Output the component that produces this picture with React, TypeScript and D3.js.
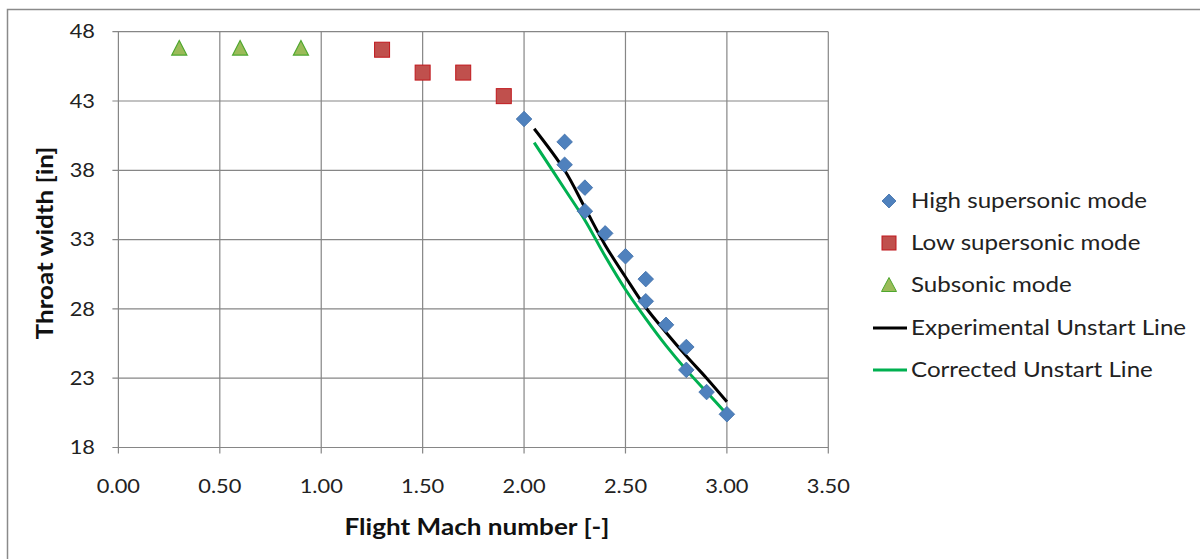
import React from 'react';
import * as d3 from 'd3';

// Excel-style scatter: throat width vs flight Mach number
const highMach = [2.0, 2.2, 2.2, 2.3, 2.3, 2.4, 2.5, 2.6, 2.6, 2.7, 2.8, 2.8, 2.9, 3.0];
const highWidth = [41.7, 40.05, 38.4, 36.75, 35.05, 33.45, 31.8, 30.15, 28.55, 26.85, 25.25, 23.6, 22.0, 20.4];

const lowMach = [1.3, 1.5, 1.7, 1.9];
const lowWidth = [46.7, 45.05, 45.05, 43.35];

const subMach = [0.3, 0.6, 0.9];
const subWidth = [46.8, 46.8, 46.8];

const expMach = [2.05, 2.2, 2.3, 2.4, 2.5, 2.6, 2.7, 2.8, 2.9, 3.0];
const expWidth = [41.0, 38.0, 35.3, 32.6, 30.3, 28.1, 26.3, 24.6, 23.0, 21.3];

const corMach = [2.05, 2.2, 2.3, 2.4, 2.5, 2.6, 2.7, 2.8, 2.9, 3.0];
const corWidth = [40.0, 36.65, 34.4, 31.8, 29.4, 27.3, 25.35, 23.6, 22.0, 20.4];

const xTicks = [0, 0.5, 1.0, 1.5, 2.0, 2.5, 3.0, 3.5];
const yTicks = [18, 23, 28, 33, 38, 43, 48];

const legendLabels = [
  'High supersonic mode',
  'Low supersonic mode',
  'Subsonic mode',
  'Experimental Unstart Line',
  'Corrected Unstart Line',
];

const FONT = 'Lato, "Open Sans", sans-serif';
const GRID = '#868686';
const STRETCH = 1.15; // the source text is a bit wider than Lato

export default function App() {
  const left = 118.4, right = 828.3, top = 31.7, bottom = 447.5;

  const x = d3.scaleLinear().domain([0, 3.5]).range([left, right]);
  const y = d3.scaleLinear().domain([18, 48]).range([bottom, top]);

  const line = d3.line<[number, number]>()
    .x(d => x(d[0]))
    .y(d => y(d[1]))
    .curve(d3.curveCatmullRom.alpha(0.5));

  const expPts = expMach.map((m, i) => [m, expWidth[i]] as [number, number]);
  const corPts = corMach.map((m, i) => [m, corWidth[i]] as [number, number]);

  const diamond = (cx: number, cy: number, r = 7.8) =>
    `M${cx},${cy - r}L${cx + r},${cy}L${cx},${cy + r}L${cx - r},${cy}Z`;
  const triangle = (cx: number, cy: number, w = 15, h = 13.5) =>
    `M${cx},${cy - h / 2 - 1}L${cx + w / 2},${cy + h / 2}L${cx - w / 2},${cy + h / 2}Z`;

  const legendX = 889;
  const legendRows = [201, 243, 285, 328, 370];

  return (
    <svg width={1200} height={559} style={{ position: 'absolute', left: 0, top: 0, background: '#fff' }}>
      <rect x={0} y={0} width={1200} height={559} fill="#fff" />
      {/* outer chart frame, open at right and bottom */}
      <path d="M7.5,570V9.5H1210" fill="none" stroke="#8a8a8a" strokeWidth={1.5} />

      {/* grid */}
      {yTicks.map(t => (
        <line key={'gy' + t} x1={left - 6} x2={right} y1={y(t)} y2={y(t)} stroke={GRID} strokeWidth={1.2} />
      ))}
      {xTicks.map(t => (
        <line key={'gx' + t} x1={x(t)} x2={x(t)} y1={top} y2={bottom + 6} stroke={GRID} strokeWidth={1.2} />
      ))}

      {/* tick labels */}
      {yTicks.map(t => (
        <text key={'ty' + t} transform={`translate(95,${y(t)}) scale(${STRETCH},1)`} dy="0.35em" textAnchor="end"
          fontFamily={FONT} fontSize={19} fill="#222">{t}</text>
      ))}
      {xTicks.map(t => (
        <text key={'tx' + t} transform={`translate(${x(t)},486) scale(${STRETCH},1)`} dy="0.35em" textAnchor="middle"
          fontFamily={FONT} fontSize={19} fill="#222">{t.toFixed(2)}</text>
      ))}

      {/* axis titles */}
      <text x={477} y={527} dy="0.35em" textAnchor="middle" fontFamily={FONT}
        fontSize={22} fontWeight="bold" fill="#111" textLength={265} lengthAdjust="spacingAndGlyphs">Flight Mach number [-]</text>
      <text transform="translate(45,243) rotate(-90)" dy="0.35em" textAnchor="middle"
        fontFamily={FONT} fontSize={22} fontWeight="bold" fill="#111" textLength={193} lengthAdjust="spacingAndGlyphs">Throat width [in]</text>

      {/* unstart lines */}
      <path d={line(expPts) || ''} fill="none" stroke="#000" strokeWidth={3} />
      <path d={line(corPts) || ''} fill="none" stroke="#00B050" strokeWidth={3} />

      {/* markers */}
      {subMach.map((m, i) => (
        <path key={'s' + i} d={triangle(x(m), y(subWidth[i]))} fill="#9BBB59" stroke="#4EA72E" strokeWidth={1.2} />
      ))}
      {lowMach.map((m, i) => (
        <rect key={'l' + i} x={x(m) - 7.5} y={y(lowWidth[i]) - 7.5} width={15} height={15}
          fill="#C0504D" stroke="#C0171C" strokeWidth={1} />
      ))}
      {highMach.map((m, i) => (
        <path key={'h' + i} d={diamond(x(m), y(highWidth[i]))} fill="#4F81BD" stroke="#3D6DA8" strokeWidth={0.8} />
      ))}

      {/* legend */}
      <path d={diamond(legendX, legendRows[0], 7)} fill="#4F81BD" stroke="#3D6DA8" strokeWidth={0.8} />
      <rect x={legendX - 7} y={legendRows[1] - 7} width={14} height={14} fill="#C0504D" stroke="#C0171C" strokeWidth={1} />
      <path d={triangle(legendX, legendRows[2], 15, 13)} fill="#9BBB59" stroke="#4EA72E" strokeWidth={1} />
      <line x1={873} x2={907} y1={legendRows[3]} y2={legendRows[3]} stroke="#000" strokeWidth={3} />
      <line x1={873} x2={907} y1={legendRows[4]} y2={legendRows[4]} stroke="#00B050" strokeWidth={3} />
      {legendLabels.map((lab, i) => (
        <text key={lab} transform={`translate(911,${legendRows[i]}) scale(${STRETCH},1)`} dy="0.35em"
          fontFamily={FONT} fontSize={21} fill="#222">{lab}</text>
      ))}
    </svg>
  );
}
